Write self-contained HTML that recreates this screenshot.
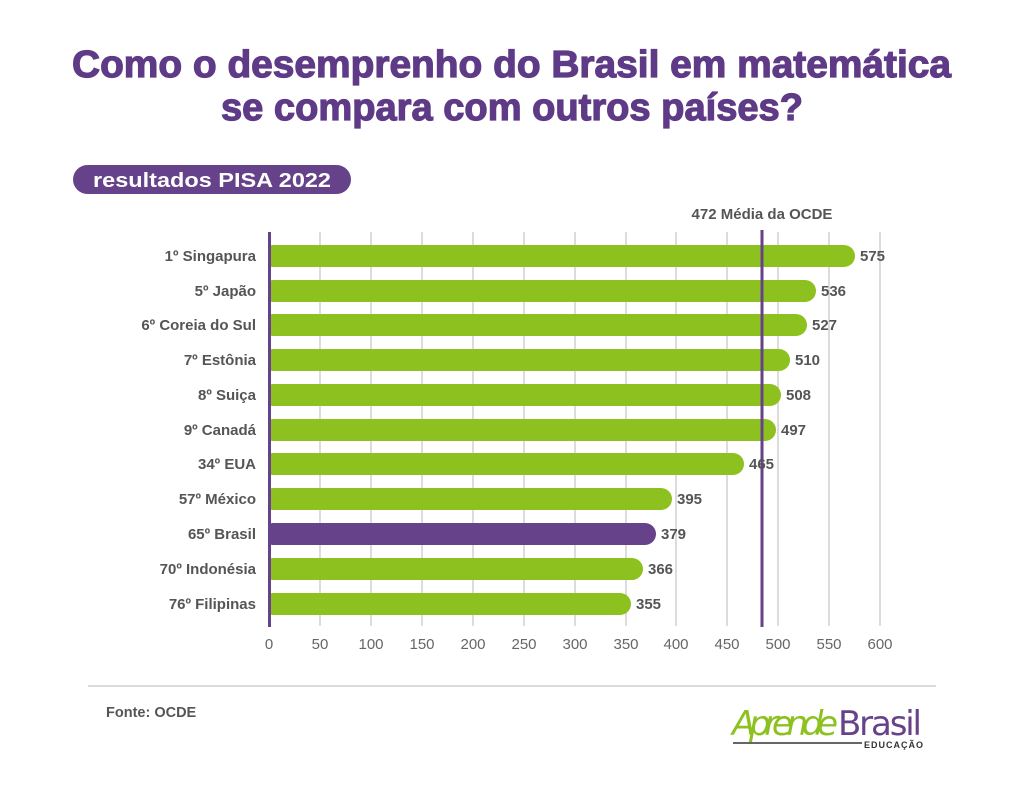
<!DOCTYPE html><html><head><meta charset="utf-8"><style>body{margin:0;background:#fff}svg{display:block}</style></head><body>
<svg width="1024" height="785" xmlns="http://www.w3.org/2000/svg" font-family="Liberation Sans, sans-serif">
<rect width="1024" height="785" fill="#fff"/>
<g fill="#5e3a87" font-weight="bold" font-size="38" stroke="#5e3a87" stroke-width="1.2">
<text x="72" y="77" textLength="879" lengthAdjust="spacingAndGlyphs">Como o desemprenho do Brasil em matemática</text>
<text x="221" y="120" textLength="582" lengthAdjust="spacingAndGlyphs">se compara com outros países?</text>
</g>
<rect x="73" y="165" width="278" height="29" rx="14.5" fill="#66428a"/>
<text x="93" y="187" fill="#fff" font-size="20" font-weight="bold" textLength="238" lengthAdjust="spacingAndGlyphs">resultados PISA 2022</text>
<g stroke="#dcdcdc" stroke-width="2">
<line x1="320" y1="232" x2="320" y2="626"/><line x1="371" y1="232" x2="371" y2="626"/><line x1="422" y1="232" x2="422" y2="626"/><line x1="473" y1="232" x2="473" y2="626"/><line x1="524" y1="232" x2="524" y2="626"/><line x1="575" y1="232" x2="575" y2="626"/><line x1="626" y1="232" x2="626" y2="626"/><line x1="676" y1="232" x2="676" y2="626"/><line x1="727" y1="232" x2="727" y2="626"/><line x1="778" y1="232" x2="778" y2="626"/><line x1="829" y1="232" x2="829" y2="626"/><line x1="880" y1="232" x2="880" y2="626"/>
</g>
<g fill="#8dc11f">
<rect x="262" y="245" width="593" height="22" rx="11"/>
<rect x="262" y="280" width="554" height="22" rx="11"/>
<rect x="262" y="314" width="545" height="22" rx="11"/>
<rect x="262" y="349" width="528" height="22" rx="11"/>
<rect x="262" y="384" width="519" height="22" rx="11"/>
<rect x="262" y="419" width="514" height="22" rx="11"/>
<rect x="262" y="453" width="482" height="22" rx="11"/>
<rect x="262" y="488" width="410" height="22" rx="11"/>
<rect x="262" y="558" width="381" height="22" rx="11" />
<rect x="262" y="593" width="369" height="22" rx="11"/>
</g>
<rect x="262" y="523" width="394" height="22" rx="11" fill="#66428a"/>
<rect x="240" y="230" width="29" height="400" fill="#fff"/>
<line x1="269.5" y1="232" x2="269.5" y2="627" stroke="#66428a" stroke-width="3"/>
<line x1="762" y1="230" x2="762" y2="627" stroke="#66428a" stroke-width="3"/>
<text x="762" y="219" font-size="15" font-weight="bold" fill="#555" text-anchor="middle">472 Média da OCDE</text>
<g font-size="15" font-weight="bold" fill="#555" text-anchor="end">
<text x="256" y="261">1º Singapura</text><text x="256" y="296">5º Japão</text><text x="256" y="330">6º Coreia do Sul</text><text x="256" y="365">7º Estônia</text><text x="256" y="400">8º Suiça</text><text x="256" y="435">9º Canadá</text><text x="256" y="469">34º EUA</text><text x="256" y="504">57º México</text><text x="256" y="539">65º Brasil</text><text x="256" y="574">70º Indonésia</text><text x="256" y="609">76º Filipinas</text>
</g>
<g font-size="15" font-weight="bold" fill="#555">
<text x="860" y="261">575</text><text x="821" y="296">536</text><text x="812" y="330">527</text><text x="795" y="365">510</text><text x="786" y="400">508</text><text x="781" y="435">497</text><text x="749" y="469">465</text><text x="677" y="504">395</text><text x="661" y="539">379</text><text x="648" y="574">366</text><text x="636" y="609">355</text>
</g>
<g font-size="15" fill="#666" text-anchor="middle">
<text x="269" y="649">0</text><text x="320" y="649">50</text><text x="371" y="649">100</text><text x="422" y="649">150</text><text x="473" y="649">200</text><text x="524" y="649">250</text><text x="575" y="649">300</text><text x="626" y="649">350</text><text x="676" y="649">400</text><text x="727" y="649">450</text><text x="778" y="649">500</text><text x="829" y="649">550</text><text x="880" y="649">600</text>
</g>
<line x1="88" y1="686" x2="936" y2="686" stroke="#dcdcdc" stroke-width="2"/>
<text x="106" y="717" font-size="14.5" font-weight="bold" fill="#555">Fonte: OCDE</text>
<text x="732" y="735" font-size="34" font-style="italic" fill="#8dc11f" font-family="DejaVu Sans, sans-serif" textLength="106">Aprende</text>
<text x="838" y="735" font-size="34" fill="#66428a" font-family="DejaVu Sans, sans-serif" textLength="84">Brasil</text>
<line x1="733" y1="743" x2="862" y2="743" stroke="#333" stroke-width="1.5"/>
<text x="864" y="748" font-size="9" font-weight="bold" fill="#333" letter-spacing="1">EDUCAÇÃO</text>
</svg>
</body></html>
